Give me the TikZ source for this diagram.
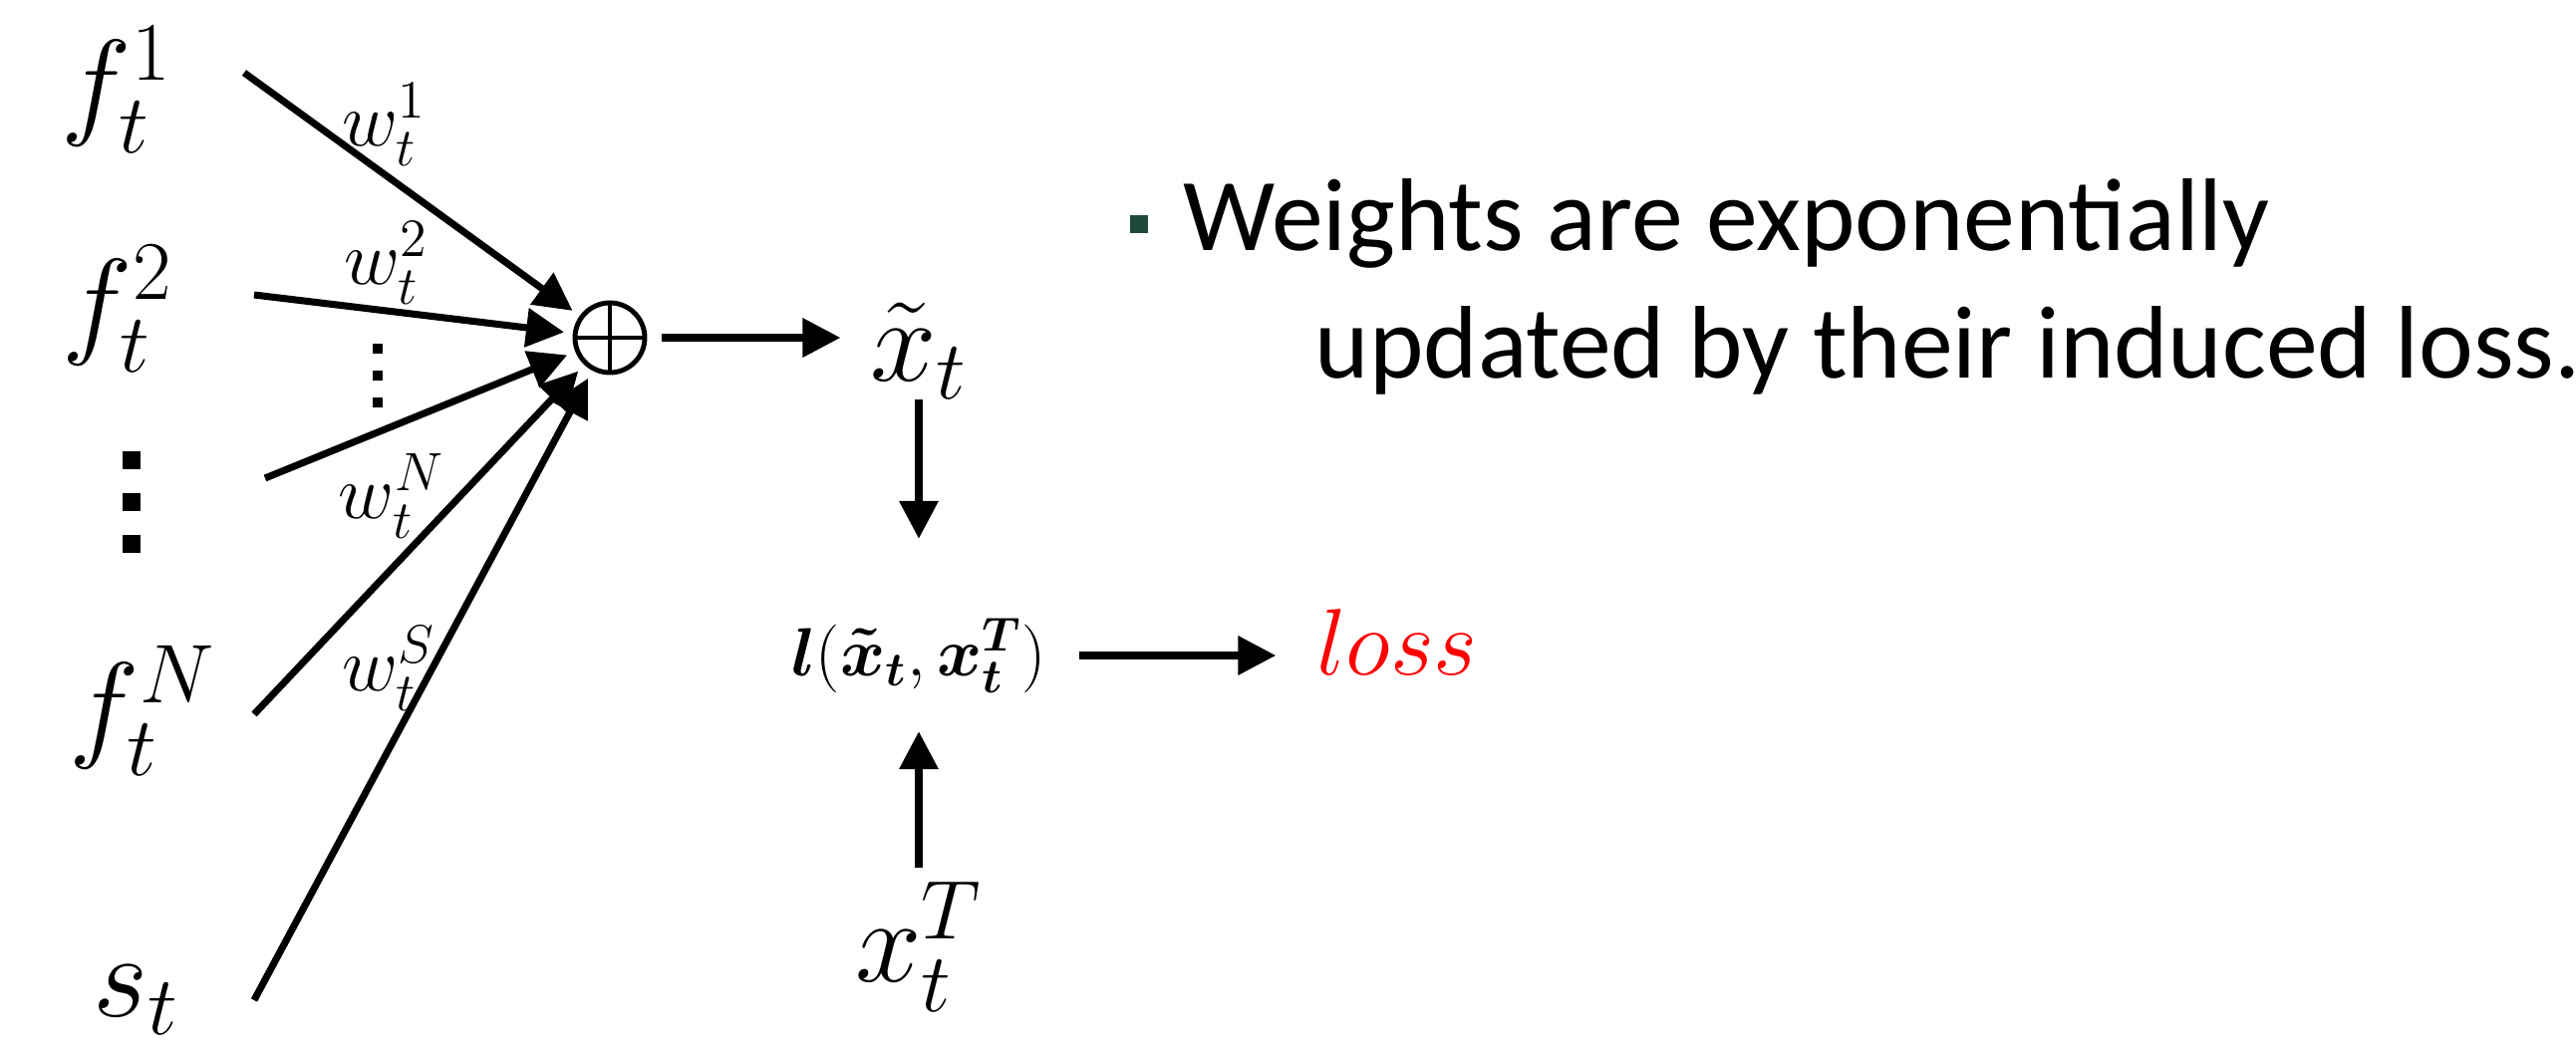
\RequirePackage{fix-cm}
\documentclass[tikz,border=0pt]{standalone}
\usepackage{fontspec}
\usepackage{amsmath}
\setmainfont{Carlito}
\usetikzlibrary{arrows.meta, positioning}
\definecolor{BulletGreen}{HTML}{1E4A3C}
\definecolor{LossRed}{HTML}{FF0000}

% three square dots stacked
\newcommand{\sqdots}[2]{\vbox{\offinterlineskip
  \hbox{\rule{#1}{#1}}\vskip#2\hbox{\rule{#1}{#1}}\vskip#2\hbox{\rule{#1}{#1}}}}

\begin{document}
\begin{tikzpicture}[
  arr/.style={-{Triangle[length=0.38cm, width=0.38cm]}, line width=2pt},
  into/.style={arr, shorten >=2.5pt},
  var/.style={inner sep=0pt, font=\fontsize{34}{40}\selectfont},
  wlbl/.style={inner sep=0pt, font=\fontsize{22}{26}\selectfont},
  txt/.style={anchor=base west, inner sep=0pt, font=\fontsize{29.5}{35}\selectfont},
]
\useasboundingbox (0,0) rectangle (25.85,10.47);

% inputs
\node[var] (f1) at (1.17,9.57) {$f_t^1$};
\node[var] (f2) at (1.18,7.37) {$f_t^2$};
\node[inner sep=0pt] (fdots) at (1.32,5.43) {\sqdots{0.18cm}{0.24cm}};
\node[var] (fN) at (1.43,3.34) {$f_t^N$};
\node[var] (st) at (1.37,0.43) {$s_t$};

\coordinate (f1out) at (2.45,9.74);
\coordinate (f2out) at (2.55,7.51);
\coordinate (fdout) at (2.66,5.67);
\coordinate (fNout) at (2.55,3.30);
\coordinate (stout) at (2.55,0.43);

% combiner
\node[circle, draw, line width=1.4pt, minimum size=0.70cm, inner sep=0pt] (sum) at (6.12,7.08) {};
\draw[line width=1.4pt] (sum.north) -- (sum.south) (sum.west) -- (sum.east);

\draw[into] (f1out) -- (sum);
\draw[into] (f2out) -- (sum);
\draw[into] (fdout) -- (sum);
\draw[into] (fNout) -- (sum);
\draw[into] (stout) -- (sum);

% weights
\node[wlbl] (w1) at (3.86,9.22) {$w_t^1$};
\node[wlbl] (w2) at (3.88,7.83) {$w_t^2$};
\node[inner sep=0pt] (wdots) at (3.79,6.70) {\sqdots{0.10cm}{0.17cm}};
\node[wlbl] (wN) at (3.93,5.49) {$w_t^N$};
\node[wlbl] (wS) at (3.90,3.76) {$w_t^S$};

% loss
\node[var] (xt) at (9.22,6.95) {$\tilde{x}_t$};
\node[inner sep=0pt, font=\fontsize{19.5}{24}\selectfont] (lfn) at (9.22,3.89)
  {$\boldsymbol{l}(\boldsymbol{\tilde{x}}_{\boldsymbol{t}},\boldsymbol{x}_{\boldsymbol{t}}^{\boldsymbol{T}})$};
\node[inner sep=0pt, text=LossRed, font=\fontsize{27}{32}\selectfont] (loss) at (14.02,4.02) {$loss$};
\node[var] (xT) at (9.22,0.97) {$x_t^T$};

\draw[arr, shorten <=4pt, shorten >=0.29cm] (sum.east) -- (sum -| xt.west);
\draw[arr, shorten >=0.79cm] (xt) -- (lfn);
\draw[arr, shorten <=0.13cm, shorten >=0.38cm] (xT) -- (lfn);
\draw[arr, shorten <=0.33cm, shorten >=0.40cm] (lfn.east) -- (lfn.east -| loss.west);

% bullet text
\node[fill=BulletGreen, minimum size=0.18cm, inner sep=0pt] (bullet) at (11.43,8.22) {};
\node[txt] (line1) at (11.87,7.95) {Weights are exponentially};
\node[txt] (line2) at (13.19,6.67) {updated by their induced loss.};

\end{tikzpicture}
\end{document}
